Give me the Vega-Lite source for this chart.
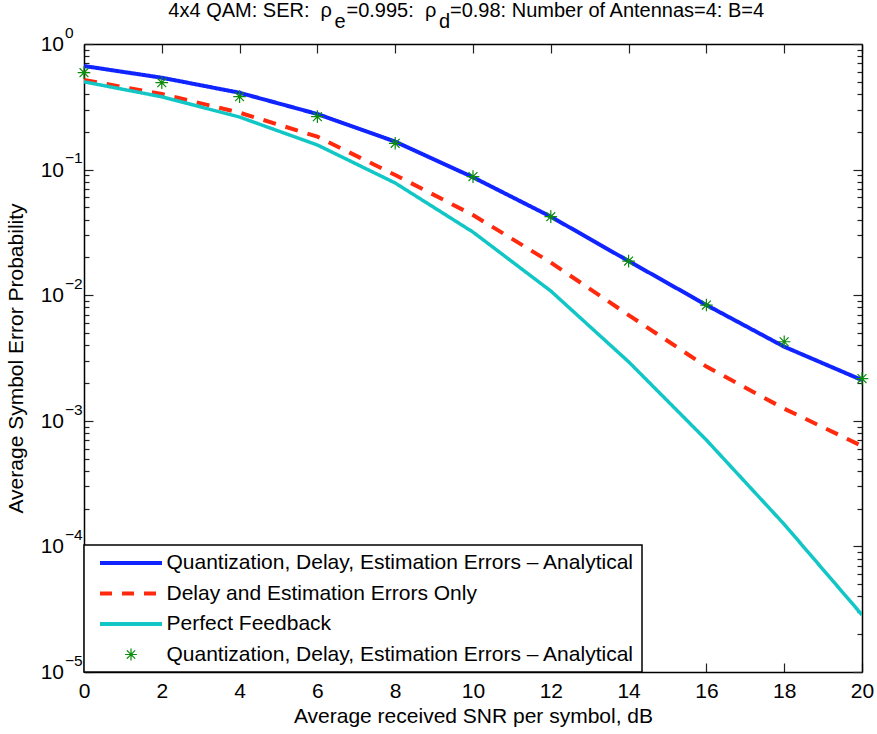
{
  "$schema": "https://vega.github.io/schema/vega-lite/v6.json",
  "width": 778,
  "height": 628,
  "autosize": {"type": "none"},
  "padding": {"left": 84, "top": 44, "right": 15, "bottom": 62},
  "background": "white",
  "config": {
    "view": {"stroke": null},
    "font": "Liberation Sans",
    "axis": {
      "labelFont": "Liberation Sans",
      "labelFontSize": 21,
      "labelColor": "black",
      "labelFlush": false,
      "labelOverlap": false,
      "titleFont": "Liberation Sans",
      "titleFontSize": 21,
      "titleFontWeight": "normal",
      "titleColor": "black",
      "domainColor": "black",
      "domainWidth": 1.5,
      "tickColor": "#222222",
      "tickWidth": 1.2,
      "grid": false
    }
  },
  "datasets": {
    "curves": [
      {"snr": 0, "ser": 0.668, "series": "qde_line"},
      {"snr": 2, "ser": 0.539, "series": "qde_line"},
      {"snr": 4, "ser": 0.409, "series": "qde_line"},
      {"snr": 6, "ser": 0.277, "series": "qde_line"},
      {"snr": 8, "ser": 0.167, "series": "qde_line"},
      {"snr": 10, "ser": 0.0869, "series": "qde_line"},
      {"snr": 12, "ser": 0.0422, "series": "qde_line"},
      {"snr": 14, "ser": 0.0187, "series": "qde_line"},
      {"snr": 16, "ser": 0.00835, "series": "qde_line"},
      {"snr": 18, "ser": 0.00389, "series": "qde_line"},
      {"snr": 20, "ser": 0.00211, "series": "qde_line"},
      {"snr": 0, "ser": 0.517, "series": "de_line"},
      {"snr": 2, "ser": 0.40, "series": "de_line"},
      {"snr": 4, "ser": 0.284, "series": "de_line"},
      {"snr": 6, "ser": 0.183, "series": "de_line"},
      {"snr": 8, "ser": 0.0906, "series": "de_line"},
      {"snr": 10, "ser": 0.0435, "series": "de_line"},
      {"snr": 12, "ser": 0.0182, "series": "de_line"},
      {"snr": 14, "ser": 0.00695, "series": "de_line"},
      {"snr": 16, "ser": 0.0027, "series": "de_line"},
      {"snr": 18, "ser": 0.00125, "series": "de_line"},
      {"snr": 20, "ser": 0.00063, "series": "de_line"},
      {"snr": 0, "ser": 0.50, "series": "pf_line"},
      {"snr": 2, "ser": 0.38, "series": "pf_line"},
      {"snr": 4, "ser": 0.262, "series": "pf_line"},
      {"snr": 6, "ser": 0.157, "series": "pf_line"},
      {"snr": 8, "ser": 0.0782, "series": "pf_line"},
      {"snr": 10, "ser": 0.0318, "series": "pf_line"},
      {"snr": 12, "ser": 0.0108, "series": "pf_line"},
      {"snr": 14, "ser": 0.00295, "series": "pf_line"},
      {"snr": 16, "ser": 0.000703, "series": "pf_line"},
      {"snr": 18, "ser": 0.00015, "series": "pf_line"},
      {"snr": 20, "ser": 0.0000285, "series": "pf_line"},
      {"snr": 0, "ser": 0.591, "series": "qde_marker"},
      {"snr": 2, "ser": 0.492, "series": "qde_marker"},
      {"snr": 4, "ser": 0.381, "series": "qde_marker"},
      {"snr": 6, "ser": 0.264, "series": "qde_marker"},
      {"snr": 8, "ser": 0.162, "series": "qde_marker"},
      {"snr": 10, "ser": 0.088, "series": "qde_marker"},
      {"snr": 12, "ser": 0.0422, "series": "qde_marker"},
      {"snr": 14, "ser": 0.0187, "series": "qde_marker"},
      {"snr": 16, "ser": 0.00835, "series": "qde_marker"},
      {"snr": 18, "ser": 0.00426, "series": "qde_marker"},
      {"snr": 20, "ser": 0.00217, "series": "qde_marker"}
    ],
    "decades": [
      {"ser": 1, "exponent": "0"},
      {"ser": 0.1, "exponent": "−1"},
      {"ser": 0.01, "exponent": "−2"},
      {"ser": 0.001, "exponent": "−3"},
      {"ser": 0.0001, "exponent": "−4"},
      {"ser": 0.00001, "exponent": "−5"}
    ]
  },
  "layer": [
    {
      "data": {"name": "curves"},
      "transform": [{"filter": "datum.series !== 'qde_marker'"}],
      "mark": {"type": "line", "clip": true},
      "encoding": {
        "x": {
          "field": "snr",
          "type": "quantitative",
          "scale": {"domain": [0, 20], "nice": false, "zero": false},
          "axis": {
            "orient": "bottom",
            "values": [0, 2, 4, 6, 8, 10, 12, 14, 16, 18, 20],
            "tickSize": -9,
            "labelPadding": 17,
            "title": "Average received SNR per symbol, dB",
            "titlePadding": 4
          }
        },
        "y": {
          "field": "ser",
          "type": "quantitative",
          "scale": {"type": "log", "domain": [0.00001, 1], "nice": false},
          "axis": {
            "orient": "left",
            "values": [1e-5, 2e-5, 3e-5, 4e-5, 5e-5, 6e-5, 7e-5, 8e-5, 9e-5, 1e-4, 2e-4, 3e-4, 4e-4, 5e-4, 6e-4, 7e-4, 8e-4, 9e-4, 1e-3, 2e-3, 3e-3, 4e-3, 5e-3, 6e-3, 7e-3, 8e-3, 9e-3, 1e-2, 2e-2, 3e-2, 4e-2, 5e-2, 6e-2, 7e-2, 8e-2, 9e-2, 0.1, 0.2, 0.3, 0.4, 0.5, 0.6, 0.7, 0.8, 0.9, 1],
            "tickSize": {"condition": {"test": "abs(log(datum.value)/LN10 - round(log(datum.value)/LN10)) < 0.001", "value": -9}, "value": -5},
            "labels": false,
            "title": "Average Symbol Error Probability",
            "titlePadding": 57
          }
        },
        "color": {
          "field": "series",
          "type": "nominal",
          "scale": {
            "domain": ["qde_line", "de_line", "pf_line", "qde_marker"],
            "range": ["#0f24ff", "#ff2a0d", "#13c6c6", "#0b8c0b"]
          },
          "legend": {
            "title": null,
            "orient": "bottom-left",
            "offset": 0,
            "padding": 7.5,
            "fillColor": "white",
            "strokeColor": "black",
            "cornerRadius": 0,
            "symbolSize": 3844,
            "symbolOffset": 29,
            "labelOffset": 25,
            "rowPadding": 8.5,
            "labelFont": "Liberation Sans",
            "labelFontSize": 21,
            "labelColor": "black",
            "labelLimit": 700,
            "labelExpr": "datum.value === 'de_line' ? 'Delay and Estimation Errors Only' : datum.value === 'pf_line' ? 'Perfect Feedback' : 'Quantization, Delay, Estimation Errors – Analytical'",
            "encode": {
              "legend": {
                "update": {
                  "fill": {"value": "white"},
                  "stroke": {"value": "black"},
                  "strokeWidth": {"value": 1.5}
                }
              },
              "symbols": {
                "update": {
                  "shape": {"signal": "datum.value === 'qde_marker' ? 'M-0.19,0L0.19,0M0,-0.19L0,0.19M-0.135,-0.135L0.135,0.135M-0.135,0.135L0.135,-0.135' : 'M-1,0L1,0'"},
                  "strokeDash": {"signal": "datum.value === 'de_line' ? [12, 10] : [1, 0]"},
                  "strokeWidth": {"signal": "datum.value === 'qde_marker' ? 1.2 : 4"},
                  "fill": {"value": "transparent"},
                  "opacity": {"value": 1}
                }
              }
            }
          }
        },
        "strokeDash": {"condition": {"test": "datum.series === 'de_line'", "value": [13, 10]}, "value": [1, 0]},
        "strokeWidth": {"condition": {"test": "datum.series === 'pf_line'", "value": 3.5}, "value": 4}
      }
    },
    {
      "data": {"name": "curves"},
      "transform": [{"filter": "datum.series === 'qde_marker'"}],
      "mark": {
        "type": "point",
        "shape": "M-1,0L1,0M0,-1L0,1M-0.7,-0.7L0.7,0.7M-0.7,0.7L0.7,-0.7",
        "filled": false,
        "size": 160,
        "strokeWidth": 1.2,
        "opacity": 1
      },
      "encoding": {
        "x": {
          "field": "snr",
          "type": "quantitative",
          "axis": {"orient": "top", "values": [0, 2, 4, 6, 8, 10, 12, 14, 16, 18, 20], "tickSize": -9, "labels": false, "title": null}
        },
        "y": {
          "field": "ser",
          "type": "quantitative",
          "axis": {
            "orient": "right",
            "values": [1e-5, 2e-5, 3e-5, 4e-5, 5e-5, 6e-5, 7e-5, 8e-5, 9e-5, 1e-4, 2e-4, 3e-4, 4e-4, 5e-4, 6e-4, 7e-4, 8e-4, 9e-4, 1e-3, 2e-3, 3e-3, 4e-3, 5e-3, 6e-3, 7e-3, 8e-3, 9e-3, 1e-2, 2e-2, 3e-2, 4e-2, 5e-2, 6e-2, 7e-2, 8e-2, 9e-2, 0.1, 0.2, 0.3, 0.4, 0.5, 0.6, 0.7, 0.8, 0.9, 1],
            "tickSize": {"condition": {"test": "abs(log(datum.value)/LN10 - round(log(datum.value)/LN10)) < 0.001", "value": -9}, "value": -5},
            "labels": false,
            "title": null
          }
        },
        "color": {"field": "series", "type": "nominal"}
      }
    },
    {
      "data": {"name": "decades"},
      "layer": [
        {
          "mark": {"type": "text", "text": "10", "align": "right", "baseline": "alphabetic", "dx": -20, "dy": 7, "font": "Liberation Sans", "fontSize": 21, "color": "black", "clip": false},
          "encoding": {
            "x": {"datum": 0, "type": "quantitative", "axis": null},
            "y": {"field": "ser", "type": "quantitative", "axis": null}
          }
        },
        {
          "mark": {"type": "text", "align": "left", "baseline": "alphabetic", "dx": -19, "dy": -6.3, "font": "Liberation Sans", "fontSize": 15.5, "color": "black", "clip": false},
          "encoding": {
            "x": {"datum": 0, "type": "quantitative", "axis": null},
            "y": {"field": "ser", "type": "quantitative", "axis": null},
            "text": {"field": "exponent"}
          }
        }
      ]
    },
    {
      "data": {"values": [{}]},
      "layer": [
        {"mark": {"type": "text", "text": "4x4 QAM: SER: \u00a0ρ", "x": 248, "y": -27, "align": "right", "baseline": "alphabetic", "font": "Liberation Sans", "fontSize": 20, "color": "black"}},
        {"mark": {"type": "text", "text": "e", "x": 250.5, "y": -16, "align": "left", "baseline": "alphabetic", "font": "Liberation Sans", "fontSize": 20, "color": "black"}},
        {"mark": {"type": "text", "text": "=0.995: \u00a0ρ", "x": 262.5, "y": -27, "align": "left", "baseline": "alphabetic", "font": "Liberation Sans", "fontSize": 20, "color": "black"}},
        {"mark": {"type": "text", "text": "d", "x": 355, "y": -16, "align": "left", "baseline": "alphabetic", "font": "Liberation Sans", "fontSize": 20, "color": "black"}},
        {"mark": {"type": "text", "text": "=0.98: Number of Antennas=4: B=4", "x": 366, "y": -27, "align": "left", "baseline": "alphabetic", "font": "Liberation Sans", "fontSize": 20, "color": "black"}}
      ]
    }
  ],
  "resolve": {"axis": {"x": "independent", "y": "independent"}}
}
